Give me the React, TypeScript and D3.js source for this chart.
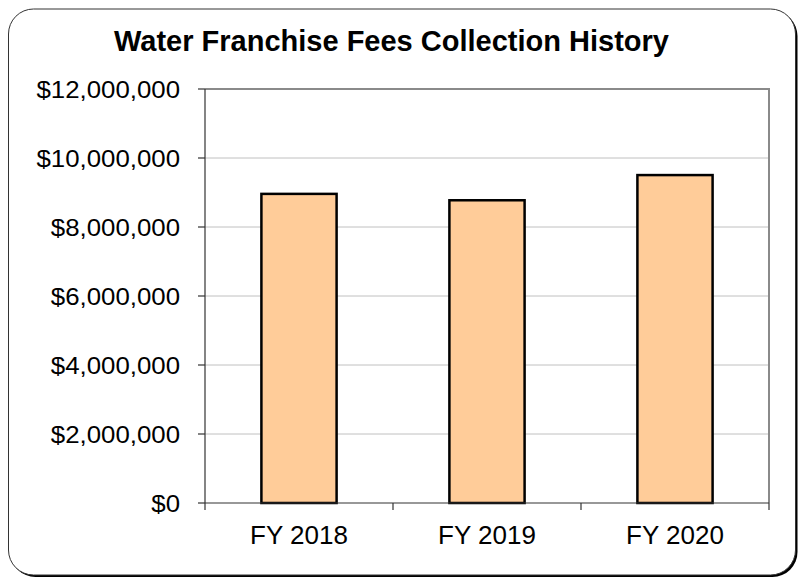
import * as d3 from 'd3';

const categories = ['FY 2018', 'FY 2019', 'FY 2020'];
const values = [8960000, 8775000, 9505000];
const yTicks = [0, 2000000, 4000000, 6000000, 8000000, 10000000, 12000000];

const W = 801;
const H = 579;
const plot = { left: 205, top: 89, right: 769, bottom: 503 };
const font = '"Liberation Sans", Arial, sans-serif';

export default function App() {
  const x = d3
    .scaleBand<string>()
    .domain(categories)
    .range([plot.left, plot.right])
    .paddingInner(0.6)
    .paddingOuter(0.3);

  const y = d3.scaleLinear().domain([0, 12000000]).range([plot.bottom, plot.top]);
  const fmt = d3.format('$,.0f');
  const step = x.step();

  // category boundaries for the x tick marks
  const xTickPos = [plot.left, ...categories.map((c) => x(c)! + x.bandwidth() / 2 + step / 2)];

  return (
    <svg
      width={W}
      height={H}
      style={{ position: 'absolute', left: 0, top: 0, fontFamily: font }}
    >
      <rect x={0} y={0} width={W} height={H} fill="#fff" />
      {/* chart frame with shadow */}
      <rect x={10.5} y={11} width={787} height={566} rx={25} fill="#000" />
      <rect x={8.5} y={9} width={787} height={566} rx={25} fill="#fff" stroke="#333" strokeWidth={1} />

      <text
        x={391.5}
        y={51}
        textAnchor="middle"
        fontSize={29}
        fontWeight="bold"
        fill="#000"
      >
        Water Franchise Fees Collection History
      </text>

      {/* gridlines */}
      {yTicks.slice(1, -1).map((t) => (
        <line
          key={`g${t}`}
          x1={plot.left}
          x2={plot.right}
          y1={y(t)}
          y2={y(t)}
          stroke="#c0c0c0"
          strokeWidth={1}
        />
      ))}

      {/* plot border: top & right */}
      <polyline
        points={`${plot.left},${plot.top} ${plot.right},${plot.top} ${plot.right},${plot.bottom}`}
        fill="none"
        stroke="#8a8a8a"
        strokeWidth={2}
      />

      {/* bars */}
      {categories.map((c, i) => (
        <rect
          key={c}
          x={x(c)}
          y={y(values[i])}
          width={x.bandwidth()}
          height={plot.bottom - y(values[i])}
          fill="#FFCC99"
          stroke="#000"
          strokeWidth={2.5}
        />
      ))}

      {/* axes */}
      <line x1={plot.left} x2={plot.left} y1={plot.top} y2={plot.bottom} stroke="#333" strokeWidth={1.2} />
      <line x1={plot.left} x2={plot.right} y1={plot.bottom} y2={plot.bottom} stroke="#333" strokeWidth={1.2} />

      {yTicks.map((t) => (
        <g key={`y${t}`}>
          <line x1={plot.left - 7} x2={plot.left} y1={y(t)} y2={y(t)} stroke="#333" strokeWidth={1.2} />
          <text
            transform={`translate(180,${y(t) + 8.5}) scale(1.09,1)`}
            textAnchor="end"
            fontSize={23.7}
            fill="#000"
          >
            {fmt(t)}
          </text>
        </g>
      ))}

      {xTickPos.map((p, i) => (
        <line key={`xt${i}`} x1={p} x2={p} y1={plot.bottom} y2={plot.bottom + 7} stroke="#333" strokeWidth={1.2} />
      ))}

      {categories.map((c) => (
        <text
          key={`xl${c}`}
          x={x(c)! + x.bandwidth() / 2}
          y={544}
          textAnchor="middle"
          fontSize={26}
          fill="#000"
        >
          {c}
        </text>
      ))}
    </svg>
  );
}
